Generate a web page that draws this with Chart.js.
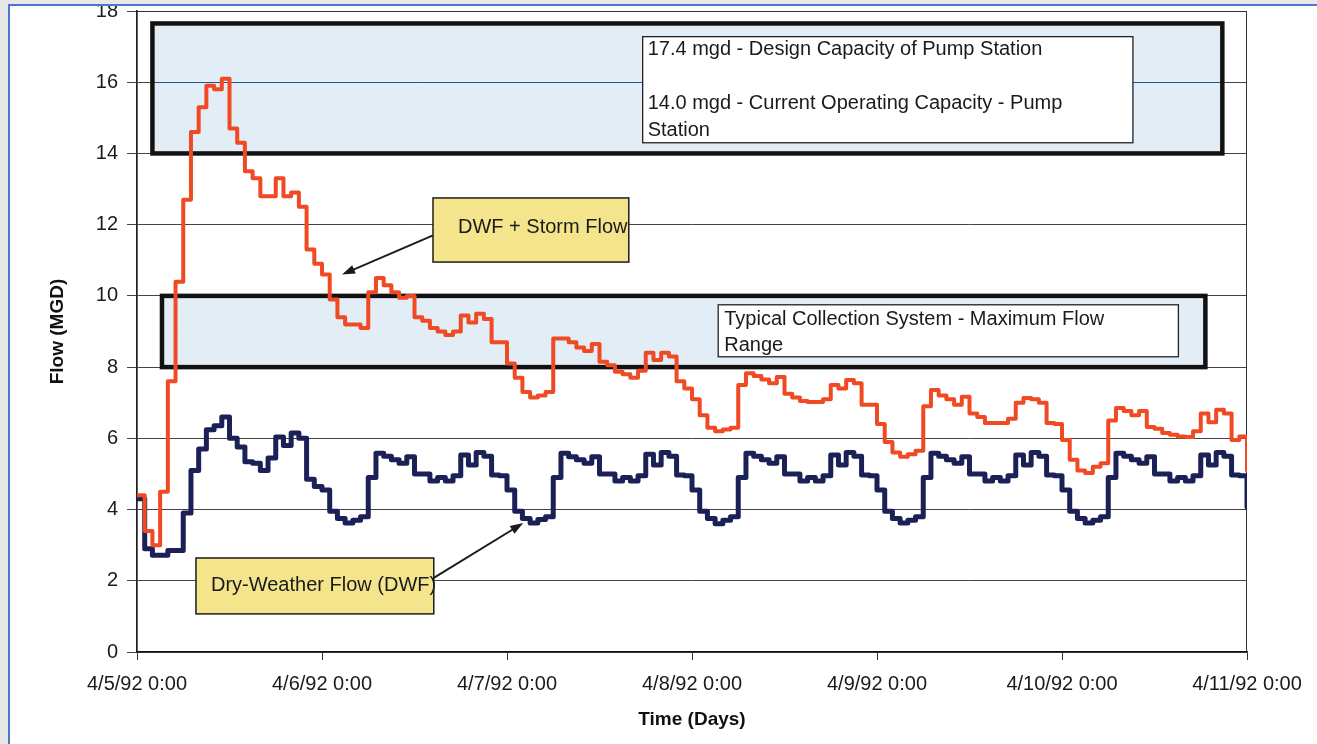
<!DOCTYPE html>
<html>
<head>
<meta charset="utf-8">
<script src="https://cdn.jsdelivr.net/npm/chart.js@4.4.0/dist/chart.umd.min.js"></script>
<style>
    html, body { margin: 0; padding: 0; background: #e8e8e8; overflow: hidden; }
    #frame { position: absolute; left: 8px; top: 4px; width: 1309px; height: 740px;
             border-top: 2px solid #4a78cc; border-left: 2px solid #4a78cc;
             background: #fff; overflow: hidden; }
    /* canvas raised 8px so the 18 tick sits on the clipped top edge */
    #wrap { position: absolute; left: -10px; top: -14px; width: 1317px; height: 752px; }
</style>
</head>
<body>
<div id="frame"><div id="wrap"><canvas id="chart" width="1317" height="752"></canvas></div></div>
<script>
// hourly readings, 4/5/92 0:00 .. 4/11/92 0:00 (index = hour)
const dayLabels = ['4/5/92 0:00', '4/6/92 0:00', '4/7/92 0:00', '4/8/92 0:00',
                   '4/9/92 0:00', '4/10/92 0:00', '4/11/92 0:00'];

const stormFlow = [
    4.4, 3.4, 3.0, 4.5, 7.6, 10.4, 12.7, 14.6, 15.3, 15.9, 15.8, 16.1,
    14.7, 14.3, 13.5, 13.3, 12.8, 12.8, 13.3, 12.8, 12.9, 12.5, 11.3, 10.9,
    10.6, 9.9, 9.4, 9.2, 9.2, 9.1, 10.1, 10.5, 10.3, 10.1, 9.95, 10.0,
    9.4, 9.3, 9.1, 9.0, 8.9, 9.0, 9.45, 9.25, 9.5, 9.35, 8.7, 8.7,
    8.1, 7.7, 7.3, 7.15, 7.2, 7.3, 8.8, 8.8, 8.7, 8.55, 8.45, 8.65,
    8.15, 8.05, 7.87, 7.8, 7.7, 7.9, 8.4, 8.2, 8.4, 8.3, 7.6, 7.4,
    7.1, 6.65, 6.3, 6.2, 6.25, 6.3, 7.5, 7.83, 7.75, 7.65, 7.55, 7.72,
    7.25, 7.15, 7.05, 7.02, 7.02, 7.1, 7.5, 7.4, 7.64, 7.55, 6.94, 6.94,
    6.4, 5.9, 5.6, 5.48, 5.55, 5.65, 6.9, 7.36, 7.2, 7.1, 6.94, 7.17,
    6.7, 6.6, 6.43, 6.43, 6.43, 6.55, 7.0, 7.13, 7.1, 7.0, 6.43, 6.4,
    5.95, 5.4, 5.1, 5.03, 5.2, 5.3, 6.5, 6.85, 6.77, 6.65, 6.77, 6.32,
    6.27, 6.15, 6.1, 6.05, 6.04, 6.2, 6.7, 6.45, 6.8, 6.7, 5.95, 6.05,
    5.1
];

const dryFlow = [
    4.3, 2.9, 2.72, 2.72, 2.85, 2.85, 3.9, 5.1, 5.7, 6.24, 6.35, 6.6,
    6.0, 5.76, 5.34, 5.3, 5.1, 5.45, 6.04, 5.8, 6.15, 6.0, 4.85, 4.65,
    4.55, 3.95, 3.75, 3.62, 3.7, 3.8, 4.9, 5.58, 5.5, 5.4, 5.3, 5.48,
    5.0, 5.0, 4.8, 4.9, 4.8, 4.95, 5.53, 5.25, 5.6, 5.5, 4.97, 4.95,
    4.55, 3.95, 3.75, 3.62, 3.72, 3.8, 4.9, 5.58, 5.48, 5.4, 5.3, 5.48,
    5.0, 5.0, 4.8, 4.9, 4.8, 4.95, 5.55, 5.25, 5.6, 5.5, 4.97, 4.95,
    4.55, 3.95, 3.75, 3.6, 3.7, 3.8, 4.9, 5.58, 5.5, 5.4, 5.3, 5.48,
    5.0, 5.0, 4.8, 4.9, 4.8, 4.95, 5.53, 5.25, 5.6, 5.5, 4.97, 4.95,
    4.55, 3.95, 3.75, 3.62, 3.7, 3.8, 4.9, 5.58, 5.5, 5.4, 5.3, 5.48,
    5.0, 5.0, 4.8, 4.9, 4.8, 4.95, 5.53, 5.25, 5.6, 5.5, 4.97, 4.95,
    4.55, 3.95, 3.75, 3.62, 3.7, 3.8, 4.9, 5.58, 5.5, 5.4, 5.3, 5.48,
    5.0, 5.0, 4.8, 4.9, 4.8, 4.95, 5.53, 5.25, 5.6, 5.5, 4.97, 4.95,
    4.07
];

const FONT = '"Liberation Sans", Arial, sans-serif';

// shaded ranges and their label boxes, in hours / MGD
const ranges = [
    { x1: 2, x2: 140.8, y1: 17.65, y2: 14.0,
      label: { x1: 65.6, x2: 129.2, y1: 17.28, y2: 14.3,
               lines: [[5, 13, '17.4 mgd - Design Capacity of Pump Station'],
                       [5, 67, '14.0 mgd - Current Operating Capacity - Pump'],
                       [5, 94, 'Station']] } },
    { x1: 3.24, x2: 138.6, y1: 10.0, y2: 8.0,
      label: { x1: 75.4, x2: 135.1, y1: 9.75, y2: 8.29,
               lines: [[6, 15, 'Typical Collection System - Maximum Flow'],
                       [6, 41, 'Range']] } }
];

const callouts = [
    { x1: 38.4, x2: 63.8, y1: 12.75, y2: 10.95, text: 'DWF + Storm Flow', dx: 25, dy: 30,
      from: [38.4, 11.7], to: [26.6, 10.6] },
    { x1: 7.65, x2: 38.5, y1: 2.64, y2: 1.07, text: 'Dry-Weather Flow (DWF)', dx: 15, dy: 27,
      from: [38.5, 2.08], to: [50.1, 3.62] }
];

function arrow(ctx, x0, y0, x1, y1) {
    const a = Math.atan2(y1 - y0, x1 - x0);
    ctx.beginPath();
    ctx.moveTo(x0, y0);
    ctx.lineTo(x1 - 8 * Math.cos(a), y1 - 8 * Math.sin(a));
    ctx.stroke();
    ctx.beginPath();
    ctx.moveTo(x1, y1);
    ctx.lineTo(x1 - 13 * Math.cos(a) + 4.5 * Math.sin(a), y1 - 13 * Math.sin(a) - 4.5 * Math.cos(a));
    ctx.lineTo(x1 - 13 * Math.cos(a) - 4.5 * Math.sin(a), y1 - 13 * Math.sin(a) + 4.5 * Math.cos(a));
    ctx.closePath();
    ctx.fill();
}

const annotationPlugin = {
    id: 'annotations',
    beforeDatasetsDraw(chart) {
        const { ctx, chartArea, scales: { x, y } } = chart;
        ctx.save();
        ranges.forEach((r, i) => {
            const l = x.getPixelForValue(r.x1), rt = x.getPixelForValue(r.x2);
            const t = y.getPixelForValue(r.y1), b = y.getPixelForValue(r.y2);
            ctx.fillStyle = '#e3edf6';
            ctx.fillRect(l, t, rt - l, b - t);
            if (i === 0) {
                ctx.strokeStyle = '#2a4f9e';
                ctx.lineWidth = 1;
                const g = Math.round(y.getPixelForValue(16)) + 0.5;
                ctx.beginPath(); ctx.moveTo(l, g); ctx.lineTo(rt, g); ctx.stroke();
            }
            ctx.strokeStyle = '#121212';
            ctx.lineWidth = 4.5;
            ctx.strokeRect(l, t, rt - l, b - t);

            const lb = r.label;
            const ll = x.getPixelForValue(lb.x1), lr = x.getPixelForValue(lb.x2);
            const lt = y.getPixelForValue(lb.y1), lbt = y.getPixelForValue(lb.y2);
            ctx.fillStyle = '#fff';
            ctx.fillRect(ll, lt, lr - ll, lbt - lt);
            ctx.strokeStyle = '#222';
            ctx.lineWidth = 1.3;
            ctx.strokeRect(ll, lt, lr - ll, lbt - lt);
            ctx.fillStyle = '#1a1a1a';
            ctx.font = '20px ' + FONT;
            ctx.textBaseline = 'middle';
            lb.lines.forEach(([dx, dy, s]) => ctx.fillText(s, ll + dx, lt + dy));
        });
        // plot frame
        ctx.strokeStyle = '#333';
        ctx.lineWidth = 1;
        ctx.strokeRect(chartArea.left, chartArea.top + 0.5, chartArea.width - 0.5, chartArea.height);
        ctx.restore();
    },
    afterDatasetsDraw(chart) {
        const { ctx, scales: { x, y } } = chart;
        ctx.save();
        callouts.forEach(c => {
            const l = x.getPixelForValue(c.x1), r = x.getPixelForValue(c.x2);
            const t = y.getPixelForValue(c.y1), b = y.getPixelForValue(c.y2);
            ctx.fillStyle = '#f4e58d';
            ctx.fillRect(l, t, r - l, b - t);
            ctx.strokeStyle = '#1c1c1c';
            ctx.lineWidth = 1.5;
            ctx.strokeRect(l, t, r - l, b - t);
            ctx.fillStyle = '#1a1a1a';
            ctx.font = '20px ' + FONT;
            ctx.textBaseline = 'middle';
            ctx.fillText(c.text, l + c.dx, t + c.dy);
            ctx.lineWidth = 2;
            arrow(ctx, x.getPixelForValue(c.from[0]), y.getPixelForValue(c.from[1]),
                       x.getPixelForValue(c.to[0]), y.getPixelForValue(c.to[1]));
        });
        ctx.restore();
    }
};

const ctx = document.getElementById('chart').getContext('2d');
new Chart(ctx, {
    type: 'line',
    data: {
        datasets: [
            {
                label: 'DWF + Storm Flow',
                data: stormFlow.map((v, i) => ({ x: i, y: v })),
                borderColor: '#f04a24',
                borderWidth: 4,
                stepped: true,
                pointRadius: 0,
                borderJoinStyle: 'round',
                borderCapStyle: 'round'
            },
            {
                label: 'Dry-Weather Flow (DWF)',
                data: dryFlow.map((v, i) => ({ x: i, y: v })),
                borderColor: '#1b2157',
                borderWidth: 5,
                stepped: true,
                pointRadius: 0,
                borderJoinStyle: 'round',
                borderCapStyle: 'round'
            }
        ]
    },
    options: {
        responsive: false,
        animation: false,
        devicePixelRatio: 1,
        layout: { padding: { left: 0, top: 11, right: 70, bottom: 0 } },
        plugins: {
            legend: { display: false },
            tooltip: { enabled: false }
        },
        scales: {
            x: {
                type: 'linear',
                min: 0,
                max: 144,
                afterFit: s => { s.height = 92; },
                ticks: {
                    stepSize: 24,
                    padding: 12,
                    color: '#1a1a1a',
                    font: { family: FONT, size: 20 },
                    maxRotation: 0,
                    callback: v => dayLabels[v / 24]
                },
                grid: { drawOnChartArea: false, drawTicks: true, tickLength: 8, color: '#333' },
                border: { color: '#111', width: 1.5 },
                title: {
                    display: true,
                    text: 'Time (Days)',
                    color: '#111',
                    font: { family: FONT, size: 19, weight: 'bold' },
                    padding: { top: 0, bottom: 13 }
                }
            },
            y: {
                min: 0,
                max: 18,
                afterFit: s => { s.width = 137; },
                ticks: {
                    stepSize: 2,
                    padding: 9,
                    color: '#1a1a1a',
                    font: { family: FONT, size: 20, lineHeight: 1 }
                },
                grid: { color: '#444', lineWidth: 1, tickLength: 10 },
                border: { color: '#111', width: 1.5 },
                title: {
                    display: true,
                    text: 'Flow (MGD)',
                    color: '#111',
                    font: { family: FONT, size: 19, weight: 'bold' },
                    padding: { top: 46, bottom: 0 }
                }
            }
        }
    },
    plugins: [annotationPlugin]
});
</script>
</body>
</html>
